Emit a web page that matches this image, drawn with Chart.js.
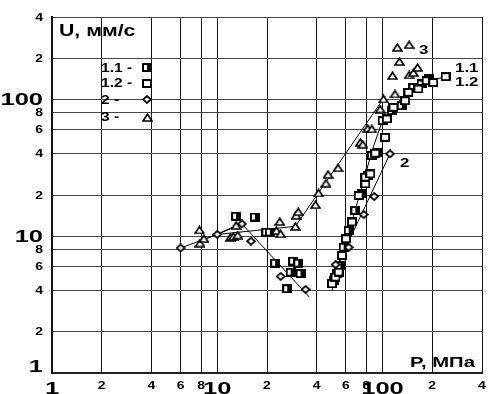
<!DOCTYPE html>
<html>
<head>
<meta charset="utf-8">
<script src="https://cdn.jsdelivr.net/npm/chart.js@4"></script>
<style>
  body { margin: 0; background: #fff; }
  canvas { display: block; }
</style>
</head>
<body>
<canvas id="chart" width="488" height="394"></canvas>
<script>
// P, МПа (x) and U, мм/с (y), both logarithmic
const xTicks = [1, 2, 4, 6, 8, 10, 20, 40, 60, 80, 100, 200, 400];
const yTicks = [1, 2, 4, 6, 8, 10, 20, 40, 60, 80, 100, 200, 400];

// 1.1 - half filled squares
const series11 = [
    [13, 14], [16.9, 13.8], [19.8, 10.7], [20.8, 10.7], [22.4, 6.35], [28.8, 6.57],
    [30.9, 6.35], [27.8, 5.46], [31.9, 5.32], [26.5, 4.13],
    [50.7, 4.75], [53, 5.32], [55.6, 6.11], [58.2, 8.31], [62.4, 11], [68.5, 15.4],
    [75, 20.4], [81.5, 27.7], [86.2, 38.8], [93.7, 41], [100, 69.9], [113.8, 82.7],
    [130.7, 89.9], [153.8, 122.4], [172.5, 129.6], [191.1, 140.9]
];
// 1.2 - open squares
const series12 = [
    [49.5, 4.49], [51.9, 5.02], [54.3, 5.46], [56.9, 7.23], [60.1, 9.57], [65.3, 12.7],
    [71.7, 19.8], [78.7, 24.1], [78.7, 27], [84.3, 28.5], [90.4, 40.4], [103.8, 52.8],
    [106.2, 71.9], [116.5, 87.4], [137, 97.8], [143.4, 112.5], [164.8, 119.1],
    [184.9, 136.9], [202.9, 133.1], [240.6, 146.5]
];
// 2 - diamonds
const series2 = [
    [6, 8.2], [10, 10.3], [14.1, 12.3], [16, 9.2], [24.2, 5.08], [34.2, 4.08],
    [52, 6.2], [62.4, 8.3], [77, 14.4], [89, 19.5], [111, 40]
];
// 3 - triangles
const series3 = [
    [7.8, 11.1], [7.85, 8.9], [8.3, 9.6], [12, 9.8], [12.5, 9.95], [13.3, 10.2], [13, 12],
    [23.9, 12.8], [22.8, 11], [24.2, 10.4], [30, 14.2], [29.7, 11.8], [30.9, 15.1],
    [39.3, 17], [41, 20.7], [45.5, 24.4], [46.8, 28.3], [53.8, 31.6], [73.4, 48.5],
    [76, 47], [81.5, 61.4], [86.2, 60.8], [96.8, 85], [101.4, 100.7], [119, 109.5],
    [123, 240], [145, 251], [126.6, 189], [115, 149], [145, 151], [153.8, 157], [163, 171]
];

// fitted lines
const line2low = [[6, 8.2], [10, 10.3], [14.1, 12.3], [36, 3.6]];
const line2high = [[50, 5.2], [111, 40]];
const line3a = [[8.1, 9.3], [13.2, 12]];
const line3b = [[10, 10.3], [29.7, 11.8], [104, 106]];
const line1 = [[49.5, 4], [88, 45], [100, 70], [114, 87], [143, 112], [189, 137], [240, 146]];

const toXY = arr => arr.map(p => ({ x: p[0], y: p[1] }));
const FONT = '"Liberation Sans", Arial, sans-serif';

// marker images with a heavy outline, like the scanned original
function makeMarker(kind, w, h, lw) {
    const c = document.createElement('canvas');
    c.width = w;
    c.height = h;
    const g = c.getContext('2d');
    g.lineWidth = lw;
    g.strokeStyle = '#000';
    g.fillStyle = '#fff';
    g.lineJoin = 'miter';
    g.beginPath();
    if (kind === 'dia') {
        g.moveTo(w / 2, 1); g.lineTo(w - 1, h / 2); g.lineTo(w / 2, h - 1); g.lineTo(1, h / 2);
    } else if (kind === 'tri') {
        g.moveTo(w / 2, 1.2); g.lineTo(w - 1, h - 1); g.lineTo(1, h - 1);
    } else {
        g.rect(1, 1, w - 2, h - 2);
    }
    g.closePath();
    g.fill();
    if (kind === 'half') {
        g.fillStyle = '#000';
        g.fillRect(Math.floor(w / 2), 1, Math.ceil(w / 2) - 1, h - 2);
    }
    g.stroke();
    return c;
}

const mHalf = makeMarker('half', 10, 9, 2);
const mOpen = makeMarker('open', 10, 9, 2);
const mDia = makeMarker('dia', 10, 9, 1.7);
const mTri = makeMarker('tri', 11, 9, 1.7);

function stretchText(ctx, text, x, y, size, sx, align) {
    ctx.save();
    ctx.font = 'bold ' + size + 'px ' + FONT;
    ctx.fillStyle = '#000';
    ctx.textAlign = align || 'left';
    ctx.textBaseline = 'alphabetic';
    ctx.translate(x, y);
    ctx.scale(sx, 1);
    ctx.fillText(text, 0, 0);
    ctx.restore();
}

const isMajor = v => v === 1 || v === 10 || v === 100;
const tickText = v => isMajor(v) ? String(v) : String(v).charAt(0);

const textPlugin = {
    id: 'texts',
    afterDraw(chart) {
        const ctx = chart.ctx;
        const xs = chart.scales.x, ys = chart.scales.y;
        // tick labels
        xTicks.forEach(v => {
            const px = xs.getPixelForValue(v);
            if (isMajor(v)) stretchText(ctx, tickText(v), px, 394, 17, 1.5, 'center');
            else stretchText(ctx, tickText(v), px, 389, 10, 1.4, 'center');
        });
        yTicks.forEach(v => {
            const py = ys.getPixelForValue(v);
            if (isMajor(v)) stretchText(ctx, tickText(v), 43, Math.min(py + 6, 372), 17, 1.5, 'right');
            else stretchText(ctx, tickText(v), 43, py + 3.5, 10, 1.4, 'right');
        });
        // axis names
        stretchText(ctx, 'U, мм/с', 59, 36, 16, 1.33);
        stretchText(ctx, 'P, МПа', 410, 367, 14, 1.45);
        // legend
        const legend = [['1.1 -', mHalf, 72, 67.5], ['1.2 -', mOpen, 87, 83.5], ['2 -', mDia, 104, 99.5], ['3 -', mTri, 121, 117.5]];
        legend.forEach(([t, m, base, cy]) => {
            stretchText(ctx, t, 101, base, 12, 1.3);
            ctx.drawImage(m, Math.round(147 - m.width / 2), Math.round(cy - m.height / 2));
        });
        // series labels
        stretchText(ctx, '3', 419, 54, 13, 1.3);
        stretchText(ctx, '1.1', 455, 72, 13, 1.3);
        stretchText(ctx, '1.2', 455, 86, 13, 1.3);
        stretchText(ctx, '2', 400, 167, 13, 1.3);
    }
};

function pts(arr, marker) {
    return { data: toXY(arr), pointStyle: marker, pointRadius: 5, showLine: false, order: 1 };
}
function fit(arr) {
    return {
        data: toXY(arr), showLine: true, pointRadius: 0, borderColor: '#000',
        borderWidth: 1, order: 10, tension: 0
    };
}

new Chart(document.getElementById('chart'), {
    type: 'scatter',
    data: {
        datasets: [
            fit(line2low), fit(line2high), fit(line3a), fit(line3b), fit(line1),
            pts(series3, mTri), pts(series2, mDia), pts(series12, mOpen), pts(series11, mHalf)
        ]
    },
    options: {
        responsive: false,
        animation: false,
        devicePixelRatio: 1,
        layout: { padding: { top: 17, right: 3, left: 0, bottom: 0 } },
        plugins: { legend: { display: false }, tooltip: { enabled: false } },
        scales: {
            x: {
                type: 'logarithmic', min: 1, max: 400,
                afterBuildTicks: s => { s.ticks = xTicks.map(v => ({ value: v })); },
                afterFit: s => { s.height = 21; },
                ticks: { display: false },
                grid: { color: '#111', lineWidth: 1, drawTicks: false },
                border: { display: true, color: '#222', width: 2 }
            },
            y: {
                type: 'logarithmic', min: 1, max: 400,
                afterBuildTicks: s => { s.ticks = yTicks.map(v => ({ value: v })); },
                afterFit: s => { s.width = 52; },
                ticks: { display: false },
                grid: { color: '#444', lineWidth: 1, drawTicks: false },
                border: { display: true, color: '#111', width: 2 }
            }
        }
    },
    plugins: [textPlugin]
});
</script>
</body>
</html>
